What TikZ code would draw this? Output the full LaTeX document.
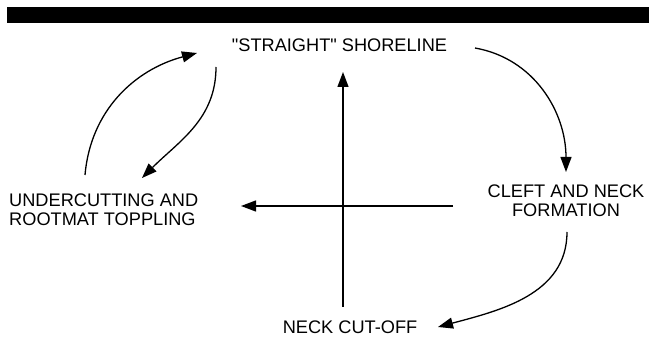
\documentclass[tikz,border=0pt]{standalone}
\usepackage{fontspec}
\newfontfamily\lbfont{Liberation Sans}
\usetikzlibrary{arrows.meta}
\begin{document}
\begin{tikzpicture}[x=1pt,y=-1pt,
  lbl/.style={inner sep=0pt,font=\lbfont\fontsize{18.2}{19}\selectfont},
  conn/.style={line width=1.3pt,-{Triangle[length=15pt,width=11pt]}}]
\useasboundingbox (0,0) rectangle (649,339);
\fill[black] (7,7) rectangle (649,23);
% labels
\node[lbl,anchor=north] (shore) at (339.5,39) {"STRAIGHT" SHORELINE};
\node[lbl,anchor=north west,align=left] (under) at (9,194) {UNDERCUTTING AND\\ROOTMAT TOPPLING};
\node[lbl,anchor=north,align=center] (cleft) at (566,185) {CLEFT AND NECK\\FORMATION};
\node[lbl,anchor=north] (neck) at (350,321) {NECK CUT-OFF};
% connector end points
\coordinate (vb) at (343,307);
\coordinate (vt) at (343,72);
\coordinate (hr) at (453,206);
\coordinate (hl) at (241,206);
\coordinate (c1s) at (85,175);
\coordinate (c1e) at (197,53);
\coordinate (c2s) at (216,67);
\coordinate (c2e) at (142,178);
\coordinate (c3s) at (475,48);
\coordinate (c3e) at (566,172);
\coordinate (c4s) at (567,232);
\coordinate (c4e) at (438,327);
% connectors
\draw[conn] (vb) -- (vt);
\draw[conn] (hr) -- (hl);
\draw[conn] (c1s) to[out=85,in=195] (c1e);
\draw[conn] (c2s) to[out=-90,in=45] (c2e);
\draw[conn] (c3s) to[out=-10,in=90] (c3e);
\draw[conn] (c4s) to[out=-90,in=15] (c4e);
\end{tikzpicture}
\end{document}
